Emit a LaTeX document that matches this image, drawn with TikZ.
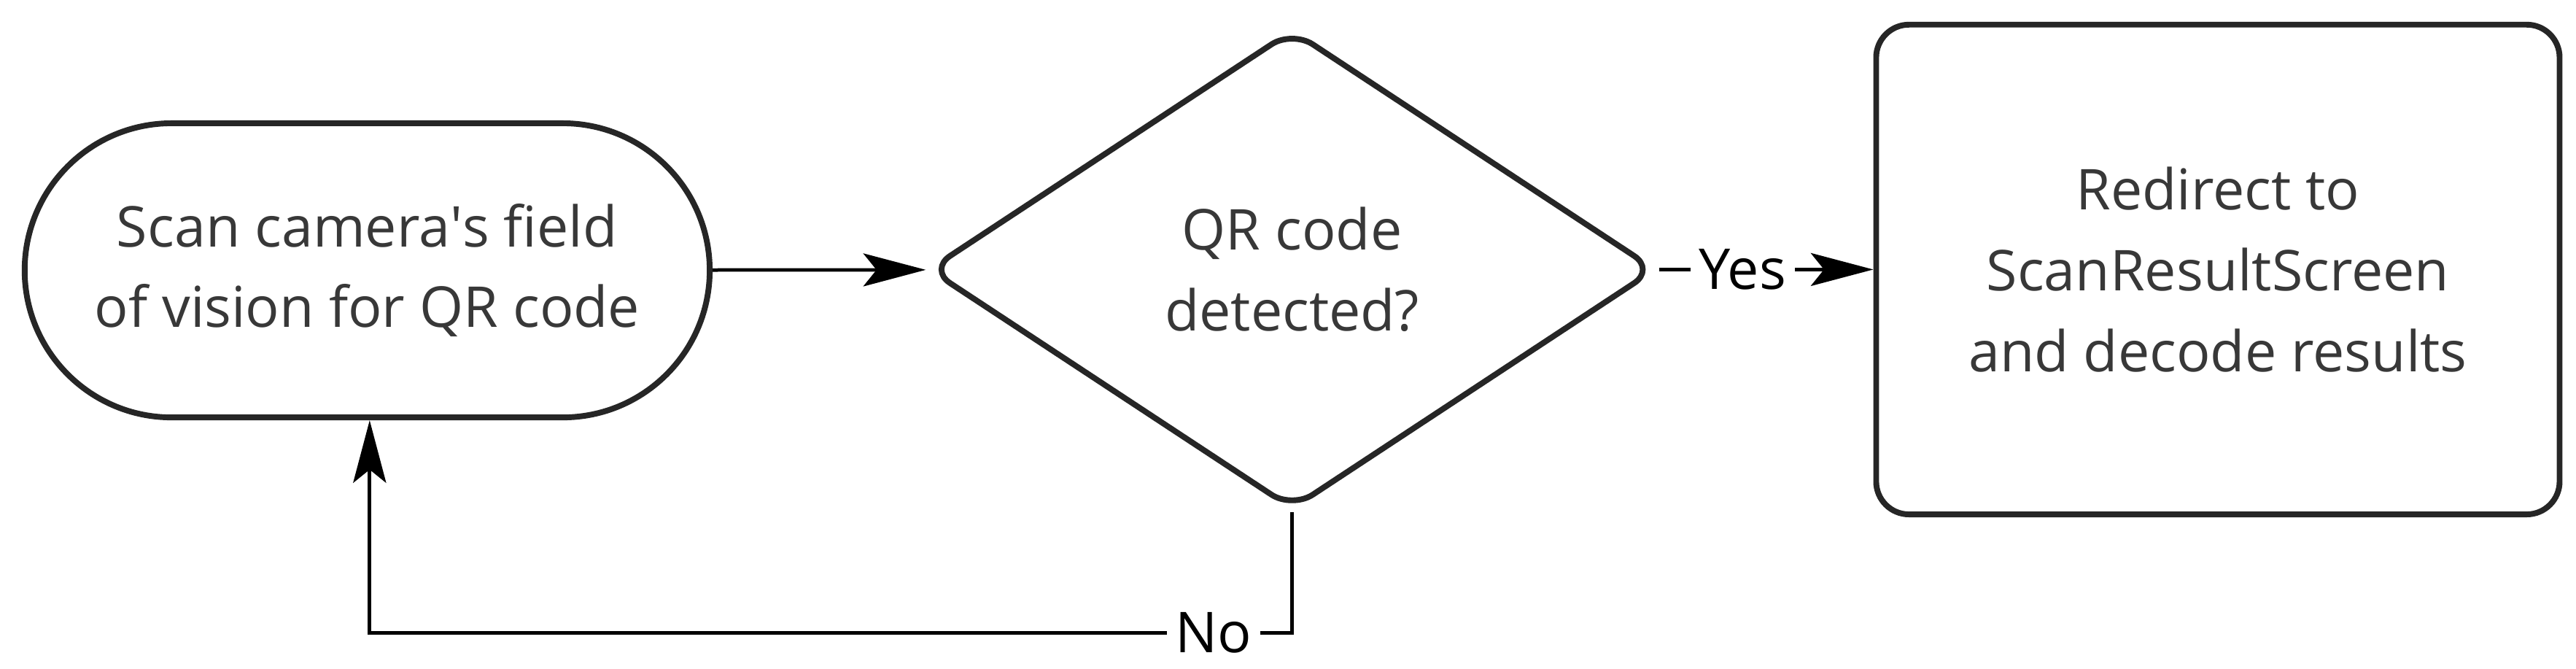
\documentclass[tikz,border=0pt]{standalone}
\usepackage{fontspec}
\setmainfont{Open Sans}
\usetikzlibrary{arrows.meta,shapes.geometric,positioning}
\tikzset{
    %Define standard arrow tip
    >={Stealth[length=0.76cm,width=0.4cm,inset=0.16cm]},
    %Define style for boxes
    startbox/.style={
           rectangle,
           rounded corners=1.79cm,
           draw=black!85, line width=2pt,
           minimum width=8.34cm,
           minimum height=3.58cm,
           align=center,
           font=\fontsize{19.5}{28}\selectfont,
           text=black!78},
    decision/.style={
           diamond,
           rounded corners=0.3cm,
           draw=black!85, line width=2pt,
           minimum width=8.86cm,
           minimum height=5.84cm,
           align=center,
           font=\fontsize{19.5}{28}\selectfont,
           text=black!78},
    resultbox/.style={
           rectangle,
           rounded corners=0.4cm,
           draw=black!85, line width=2pt,
           minimum width=8.32cm,
           minimum height=5.96cm,
           align=center,
           font=\fontsize{19.5}{28}\selectfont,
           text=black!78},
    % Define arrow style
    pil/.style={
           ->,
           line width=1.2pt},
    lbl/.style={fill=white, inner sep=3pt, font=\fontsize{19.5}{22}\selectfont}
}
\begin{document}
\begin{tikzpicture}
\useasboundingbox (0,0) rectangle (31.36,-8.14);
 %nodes
\node[startbox] (scan) at (4.47,-3.29) {Scan camera\textquotesingle s field\\of vision for QR code};
\node[decision] (qr) at (15.73,-3.28) {QR code\\detected?};
\node[resultbox] (redirect) at (27.0,-3.28) {Redirect to\\ScanResultScreen\\and decode results};
\coordinate (down) at (15.73,-7.7);
\coordinate (back) at (4.5,-7.7);
 %connectors
\draw[pil] (scan) -- (qr);
\draw[pil] (qr) -- node[lbl, pos=0.39] {Yes} (redirect);
\draw[pil] (qr.south) -- (down) -- node[lbl, pos=0.085] {No} (back) -- (scan.south -| back);
\end{tikzpicture}
\end{document}
